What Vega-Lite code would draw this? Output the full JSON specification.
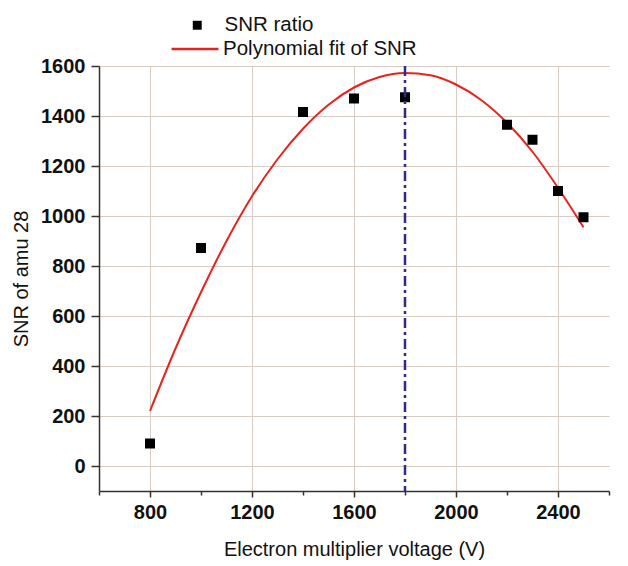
{
  "$schema": "https://vega.github.io/schema/vega-lite/v6.json",
  "width": 510,
  "height": 425,
  "autosize": "none",
  "padding": {"left": 99, "top": 66, "right": 19, "bottom": 75},
  "background": "white",
  "config": {
    "view": {"stroke": null},
    "font": "Liberation Sans",
    "axis": {
      "labelFont": "Liberation Sans",
      "titleFont": "Liberation Sans",
      "labelFontWeight": "bold",
      "labelFontSize": 20,
      "labelColor": "#111",
      "labelOverlap": false,
      "titleFontSize": 20,
      "titleFontWeight": "normal",
      "titleColor": "#111",
      "domainColor": "#333",
      "domainWidth": 1.5,
      "tickColor": "#333",
      "tickWidth": 1.5,
      "gridColor": "#d6ccc4",
      "gridWidth": 1
    },
    "legend": {"labelFont": "Liberation Sans", "labelFontSize": 20.5, "labelColor": "#111", "labelLimit": 400}
  },
  "datasets": {
    "points": [
      {"v": 800, "snr": 90},
      {"v": 1000, "snr": 872},
      {"v": 1400, "snr": 1416},
      {"v": 1600, "snr": 1470},
      {"v": 1800, "snr": 1475},
      {"v": 2200, "snr": 1365},
      {"v": 2300, "snr": 1305},
      {"v": 2400, "snr": 1100},
      {"v": 2500, "snr": 995}
    ],
    "fit": [
      {"v": 800, "snr": 220},
      {"v": 900, "snr": 470},
      {"v": 1000, "snr": 695},
      {"v": 1100, "snr": 900},
      {"v": 1200, "snr": 1079},
      {"v": 1300, "snr": 1227},
      {"v": 1400, "snr": 1349},
      {"v": 1500, "snr": 1445},
      {"v": 1600, "snr": 1514},
      {"v": 1700, "snr": 1556},
      {"v": 1800, "snr": 1572},
      {"v": 1900, "snr": 1563},
      {"v": 2000, "snr": 1526},
      {"v": 2100, "snr": 1463},
      {"v": 2200, "snr": 1373},
      {"v": 2300, "snr": 1257},
      {"v": 2400, "snr": 1113},
      {"v": 2500, "snr": 955}
    ],
    "marker": [{"v": 1800}]
  },
  "layer": [
    {
      "data": {"name": "fit"},
      "mark": {"type": "line", "strokeWidth": 2, "interpolate": "monotone"},
      "encoding": {
        "x": {
          "field": "v", "type": "quantitative",
          "scale": {"domain": [600, 2600], "nice": false, "zero": false},
          "axis": {
            "values": [600, 800, 1000, 1200, 1400, 1600, 1800, 2000, 2200, 2400, 2600],
            "labelExpr": "datum.value % 400 == 0 ? datum.label : ''",
            "format": "d",
            "labelFontSize": 20,
            "labelFontWeight": "bold",
            "tickSize": {"condition": {"test": "datum.value % 400 != 0", "value": 4}, "value": 6},
            "gridOpacity": {"condition": {"test": "datum.value % 400 != 0", "value": 0}, "value": 1},
            "labelPadding": 5,
            "title": "Electron multiplier voltage (V)",
            "titlePadding": 17
          }
        },
        "y": {
          "field": "snr", "type": "quantitative",
          "scale": {"domain": [-100, 1600], "nice": false, "zero": false},
          "axis": {
            "values": [0, 200, 400, 600, 800, 1000, 1200, 1400, 1600],
            "format": "d",
            "labelFontSize": 20,
            "labelFontWeight": "bold",
            "tickSize": 8,
            "labelPadding": 6,
            "title": "SNR of amu 28",
            "titlePadding": 9
          }
        },
        "stroke": {
          "datum": "Polynomial fit of SNR",
          "scale": {"range": ["#e8231c"]},
          "legend": {
            "title": null,
            "orient": "none",
            "legendX": 71,
            "legendY": -42,
            "symbolType": "stroke",
            "symbolSize": 2200,
            "symbolStrokeWidth": 2.5,
            "labelOffset": 3
          }
        }
      }
    },
    {
      "data": {"name": "points"},
      "mark": {"type": "point", "shape": "square", "filled": true, "size": 100, "opacity": 1},
      "encoding": {
        "x": {"field": "v", "type": "quantitative"},
        "y": {"field": "snr", "type": "quantitative"},
        "fill": {
          "datum": "SNR ratio",
          "scale": {"range": ["#000000"]},
          "legend": {
            "title": null,
            "orient": "none",
            "legendX": 88,
            "legendY": -51,
            "symbolType": "square",
            "symbolSize": 80,
            "symbolFillColor": "#000",
            "symbolStrokeWidth": 0,
            "labelOffset": 17
          }
        }
      }
    },
    {
      "data": {"name": "marker"},
      "mark": {"type": "rule", "color": "#2e2a8f", "strokeWidth": 2.5, "strokeDash": [10, 4, 3, 4]},
      "encoding": {"x": {"field": "v", "type": "quantitative"}}
    }
  ]
}
